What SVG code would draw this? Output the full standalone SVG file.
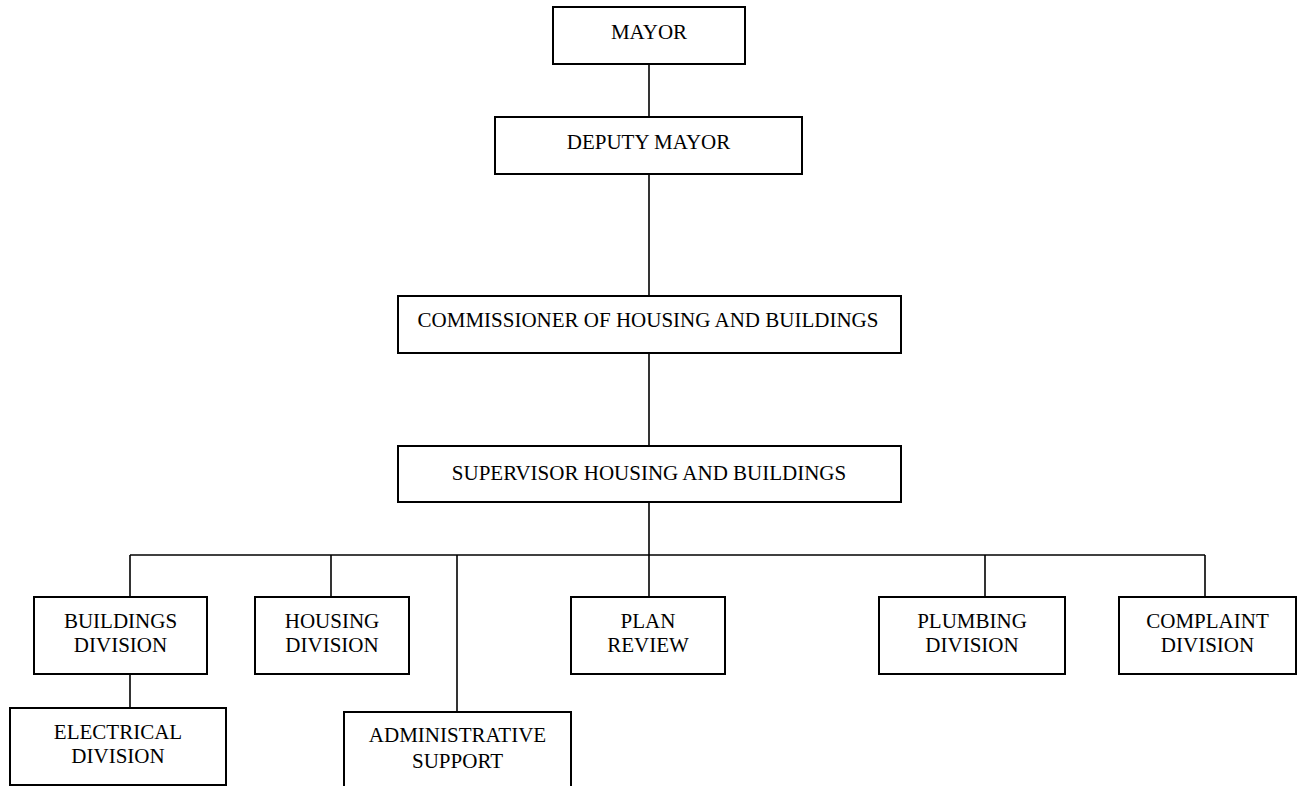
<svg xmlns="http://www.w3.org/2000/svg" width="1297" height="786" viewBox="0 0 1297 786">
<style>
.box{fill:#fff;stroke:#000;stroke-width:2}
.t{font-family:"Liberation Serif","Times New Roman",serif;font-size:21px;fill:#000;text-anchor:middle}
.c{stroke:#000;stroke-width:1.6;fill:none}
</style>
<rect width="1297" height="786" fill="#fff"/>
<g id="connectors">
<line class="c" x1="649" y1="64" x2="649" y2="117"/>
<line class="c" x1="649" y1="174" x2="649" y2="296"/>
<line class="c" x1="649" y1="353" x2="649" y2="446"/>
<line class="c" x1="649" y1="502" x2="649" y2="597"/>
<line class="c" x1="130" y1="555" x2="1205" y2="555"/>
<line class="c" x1="130" y1="555" x2="130" y2="597"/>
<line class="c" x1="331" y1="555" x2="331" y2="597"/>
<line class="c" x1="457" y1="555" x2="457" y2="712"/>
<line class="c" x1="985" y1="555" x2="985" y2="597"/>
<line class="c" x1="1205" y1="555" x2="1205" y2="597"/>
<line class="c" x1="130" y1="674" x2="130" y2="708"/>
</g>
<g id="mayor"><rect class="box" x="553" y="7" width="192" height="57"/><text class="t" x="649" y="39">MAYOR</text></g>
<g id="deputy-mayor"><rect class="box" x="495" y="117" width="307" height="57"/><text class="t" x="648.5" y="149">DEPUTY MAYOR</text></g>
<g id="commissioner"><rect class="box" x="398" y="296" width="503" height="57"/><text class="t" x="648" y="327">COMMISSIONER OF HOUSING AND BUILDINGS</text></g>
<g id="supervisor"><rect class="box" x="398" y="446" width="503" height="56"/><text class="t" x="649" y="480">SUPERVISOR HOUSING AND BUILDINGS</text></g>
<g id="buildings"><rect class="box" x="34" y="597" width="173" height="77"/><text class="t" x="120.5" y="628">BUILDINGS</text><text class="t" x="120.5" y="652">DIVISION</text></g>
<g id="housing"><rect class="box" x="255" y="597" width="154" height="77"/><text class="t" x="332" y="628">HOUSING</text><text class="t" x="332" y="652">DIVISION</text></g>
<g id="plan-review"><rect class="box" x="571" y="597" width="154" height="77"/><text class="t" x="648" y="628">PLAN</text><text class="t" x="648" y="652">REVIEW</text></g>
<g id="plumbing"><rect class="box" x="879" y="597" width="186" height="77"/><text class="t" x="972" y="628">PLUMBING</text><text class="t" x="972" y="652">DIVISION</text></g>
<g id="complaint"><rect class="box" x="1119" y="597" width="177" height="77"/><text class="t" x="1207.5" y="628">COMPLAINT</text><text class="t" x="1207.5" y="652">DIVISION</text></g>
<g id="electrical"><rect class="box" x="10" y="708" width="216" height="77"/><text class="t" x="118" y="739">ELECTRICAL</text><text class="t" x="118" y="763">DIVISION</text></g>
<g id="admin-support"><rect class="box" x="344" y="712" width="227" height="90"/><text class="t" x="457.5" y="742">ADMINISTRATIVE</text><text class="t" x="457.5" y="768">SUPPORT</text></g>
</svg>
